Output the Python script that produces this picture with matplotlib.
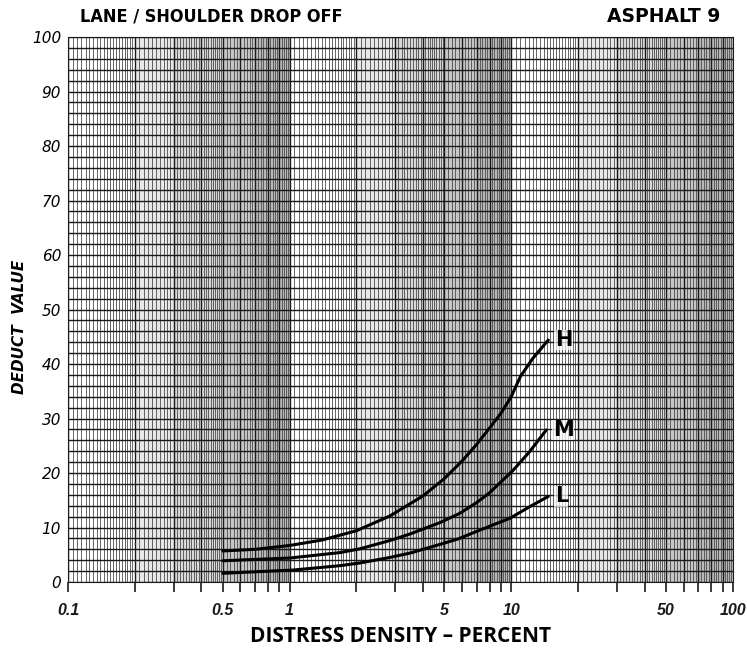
"""
plot.py -- PCI deduct curve, asphalt distress 9 (lane / shoulder drop off),
drawn on imitation semi-log chart paper.
"""
import numpy as np
import matplotlib
matplotlib.use("Agg")
import matplotlib.pyplot as plt

# ---- curve data (distress density %, deduct value) ----
H_X = [0.5, 0.7, 1.0, 1.4, 2.0, 2.83, 4.0, 5.0, 6.0, 7.0, 8.0, 9.0, 10.0,
       11.0, 12.5, 14.7]
H_Y = [5.7, 6.0, 6.7, 7.7, 9.4, 12.1, 15.8, 19.0, 22.2, 25.3, 28.3, 31.0, 34.0,
       37.7, 41.0, 44.4]
M_X = [0.5, 1.0, 1.69, 2.08, 2.83, 3.49, 4.77, 5.86, 7.0, 8.0, 10.2, 12.1, 14.4]
M_Y = [3.9, 4.4, 5.4, 6.1, 7.6, 8.8, 10.9, 12.6, 14.6, 16.4, 20.5, 23.9, 27.9]
L_X = [0.5, 1.04, 1.69, 2.08, 2.83, 3.49, 4.77, 5.75, 7.2, 9.87, 12.1, 14.7]
L_Y = [1.6, 2.2, 3.0, 3.5, 4.5, 5.3, 6.9, 7.9, 9.5, 11.7, 13.8, 15.7]
LABELS = ["H", "M", "L"]

X_TICKS = [0.1, 0.5, 1, 5, 10, 50, 100]
X_TICKLABELS = ["0.1", "0.5", "1", "5", "10", "50", "100"]
Y_TICKS = list(range(0, 101, 10))

fig = plt.figure(figsize=(7.47, 6.5), dpi=100)
ax = fig.add_axes([0.091, 0.1046, 0.890, 0.8384])
ax.set_xscale("log")
ax.set_xlim(0.1, 100)
ax.set_ylim(0, 100)

# ---- chart paper: tone bands, dense log rulings, rulings every 2 units ----
bands = [(2, 3, "#e8e8e8"), (3, 5, "#d8d8d8"), (5, 7, "#c6c6c6"), (7, 10, "#b8b8b8")]
for dec in [0.1, 1, 10]:
    for a, b, c in bands:
        ax.axvspan(a * dec, b * dec, color=c, lw=0, zorder=0)
    fine = np.concatenate([np.arange(1.0, 2.0, 0.05),
                           np.arange(2.0, 5.0, 0.1),
                           np.arange(5.0, 10.0, 0.2)]) * dec
    for v in fine:
        ax.axvline(v, color="#4a4a4a", lw=0.7, alpha=0.85, zorder=1)
    for v in np.arange(1, 10) * dec:
        ax.axvline(v, color="#1a1a1a", lw=1.0, zorder=1)
for v in np.arange(0, 101, 2):
    ax.axhline(v, color="#1a1a1a", lw=1.0, zorder=1)

# ---- curves ----
for xs, ys, lab in zip([H_X, M_X, L_X], [H_Y, M_Y, L_Y], LABELS):
    ax.plot(xs, ys, color="black", lw=2.2, solid_capstyle="round",
            solid_joinstyle="round", zorder=3)
    ax.text(xs[-1] * 1.07, ys[-1], lab, fontsize=15, fontweight="bold",
            va="center", ha="left", zorder=4,
            bbox=dict(facecolor="white", edgecolor="none", pad=0.3, alpha=0.7))

# ---- axes dressing ----
for s in ax.spines.values():
    s.set_color("#1a1a1a")
ax.set_xticks(X_TICKS)
ax.set_xticklabels(X_TICKLABELS, fontsize=11.5, fontweight="bold", style="italic",
                   family="Liberation Sans")
minor = [m * d for d in [0.1, 1, 10] for m in range(2, 10)]
ax.set_xticks(minor, minor=True)
ax.xaxis.set_minor_formatter(plt.NullFormatter())
ax.tick_params(axis="x", which="both", direction="out", length=7, width=1.2,
               pad=8, colors="#1a1a1a")
ax.set_yticks(Y_TICKS)
ax.set_yticklabels([str(v) for v in Y_TICKS], fontsize=11, style="italic")
ax.tick_params(axis="y", length=0, pad=5)

ax.set_xlabel("DISTRESS DENSITY \u2013 PERCENT", fontsize=15, fontweight="bold",
              family="Open Sans", labelpad=6)
ax.set_ylabel("DEDUCT  VALUE", fontsize=11, fontweight="bold", style="italic")
ax.yaxis.set_label_coords(-0.062, 0.468)

fig.text(0.107, 0.975, "LANE / SHOULDER DROP OFF", fontsize=13, fontweight="bold",
         family="DejaVu Sans", fontstretch="condensed", va="center", ha="left")
fig.text(0.965, 0.975, "ASPHALT 9", fontsize=13.5, fontweight="bold",
         family="DejaVu Sans", va="center", ha="right")

fig.savefig("out.png", dpi=100, facecolor="white")
plt.close(fig)
